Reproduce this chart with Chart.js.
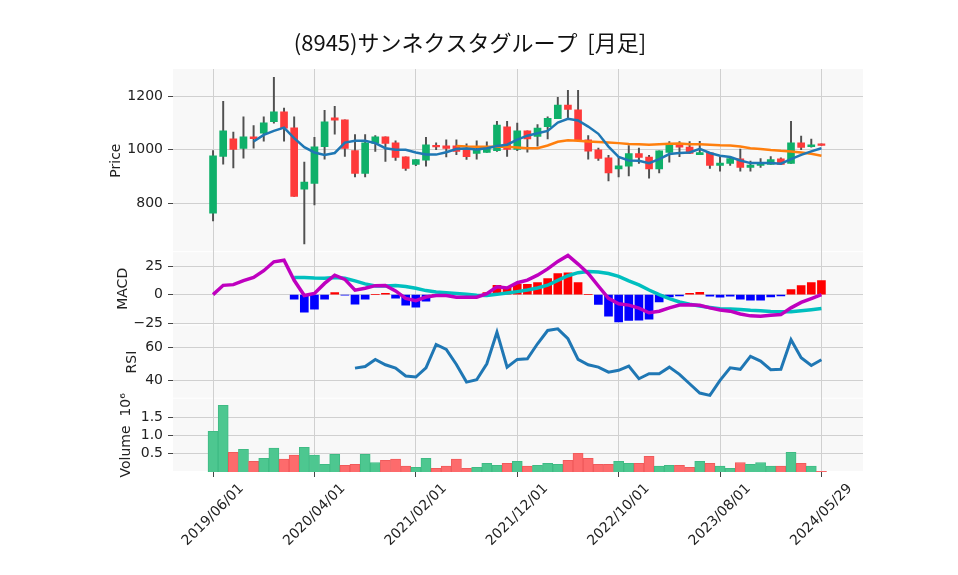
<!DOCTYPE html>
<html>
<head>
<meta charset="utf-8">
<script src="https://cdn.jsdelivr.net/npm/chart.js@4.4.0/dist/chart.umd.min.js"></script>
<style>
  html, body { margin: 0; padding: 0; background: #fff; }
</style>
</head>
<body>
<canvas id="myChart" width="958" height="575"></canvas>
<script>
const ctx = document.getElementById("myChart").getContext("2d");

const chartTitle = '(8945)サンネクスタグループ  [月足]';
// x is the bar index (monthly bars), labels every 10 bars
const tickIdx = [0, 10, 20, 30, 40, 50, 60];
const tickLabels = ['2019/06/01', '2020/04/01', '2021/02/01', '2021/12/01', '2022/10/01', '2023/08/01', '2024/05/29'];

const opens = [762, 975, 1041, 1005, 1049, 1062, 1105, 1142, 1082, 852,
  874, 1012, 1120, 1112, 997, 911, 1024, 1049, 1026, 974,
  945, 961, 1015, 1015, 1015, 1001, 986, 990, 997, 1086,
  1001, 1071, 1050, 1087, 1117, 1168, 1150, 1037, 1000, 970,
  928, 939, 986, 973, 928, 990, 1024, 1010, 982, 989,
  941, 949, 966, 934, 941, 945, 966, 949, 1026, 1012, 1022];
const highs = [997, 1182, 1066, 1124, 1091, 1124, 1272, 1156, 1124, 954,
  1047, 1148, 1163, 1112, 1057, 1057, 1053, 1049, 1034, 974,
  963, 1047, 1026, 1037, 1037, 1022, 1034, 1030, 1107, 1107,
  1100, 1071, 1095, 1124, 1197, 1223, 1223, 1053, 1006, 979,
  971, 1016, 1006, 979, 996, 1031, 1031, 1031, 1032, 989,
  974, 975, 1003, 958, 967, 975, 970, 1107, 1051, 1040, 1022];
const lows = [733, 946, 932, 969, 1006, 1032, 1100, 1032, 825, 647,
  793, 965, 1059, 975, 898, 898, 994, 956, 960, 923,
  940, 939, 1000, 973, 982, 964, 965, 990, 994, 975,
  997, 991, 1014, 1041, 1117, 1117, 1037, 965, 960, 883,
  898, 902, 949, 894, 913, 954, 974, 985, 982, 930,
  920, 941, 920, 920, 934, 945, 945, 949, 1000, 1010, 1016];
const closes = [977, 1071, 1001, 1049, 1042, 1101, 1142, 1081, 825, 879,
  1011, 1105, 1111, 1005, 911, 1026, 1049, 1024, 971, 930,
  963, 1019, 1011, 1005, 994, 974, 1001, 1007, 1093, 1001,
  1071, 1041, 1081, 1118, 1168, 1151, 1037, 995, 968, 913,
  940, 986, 971, 928, 996, 1024, 1010, 986, 990, 941,
  950, 967, 934, 943, 949, 963, 945, 1026, 1009, 1019, 1016];

const ma5 = [null, null, null, null, 1031, 1056, 1071, 1083, 1044, 1010,
  990, 981, 988, 1027, 1034, 1034, 1025, 1006, 1000, 1000,
  990, 982, 982, 991, 1003, 1005, 1001, 1006, 1014, 1019,
  1038, 1053, 1062, 1071, 1102, 1116, 1110, 1087, 1060, 1012,
  973, 960, 959, 950, 965, 984, 988, 990, 1004, 988,
  978, 973, 960, 950, 950, 950, 948, 965, 981, 994, 1006];
const ma25 = [null, null, null, null, null, null, null, null, null, null,
  null, null, null, null, null, null, null, null, null, null,
  null, null, null, null, 1014, 1012, 1011, 1011, 1011, 1011,
  1009, 1006, 1006, 1016, 1030, 1036, 1034, 1031, 1029, 1027,
  1025, 1022, 1021, 1019, 1021, 1023, 1024, 1021, 1021, 1019,
  1017, 1016, 1012, 1006, 1003, 999, 996, 994, 990, 985, 978];

const macd = [0, 8.1, 8.7, 12.2, 15, 20.9, 28.7, 30.1, 12.5, -0.8,
  1.0, 9.8, 17, 13.3, 3.9, 5.6, 7.8, 7.9, 3.2, -3.3,
  -5.3, -2.1, -0.8, -0.9, -2.3, -2.3, -2.3, 0.8, 6.9, 5.8,
  10.4, 12.6, 17, 22.5, 29, 34.2, 26.7, 18.5, 7.5, -3.2,
  -8, -9.2, -11.8, -15.9, -14.6, -11.6, -9.2, -8.9, -9.4, -11.6,
  -13.4, -14.5, -17, -18.6, -18.9, -18.1, -17.5, -11.6, -6.8, -3.5, 0];
const signal = [null, null, null, null, null, null, null, null, 15, 15,
  14.5, 14.3, 15, 14.3, 12, 9.4, 7.5, 7.5, 8, 7,
  5.5, 3.5, 2.3, 1.6, 1, 0.3, -0.5, -0.7, 0.2, 1.4,
  2.6, 4, 5.8, 8.2, 12.5, 16.5, 19.2, 20.2, 19.7, 18.5,
  16, 12, 8.5, 4, 0, -3.5, -6.5, -8.5, -10, -11.2,
  -12.3, -12.7, -13, -13.7, -14.2, -14.8, -15.1, -15.1, -14.2, -13.2, -12.2];
const hist = [null, null, null, null, null, null, null, null, -4.1, -15.4,
  -12.8, -4.1, 1.7, -0.6, -8.4, -4.1, 0, 1.2, -3.2, -9.3,
  -11, -5.8, 0, 0, 0, 0, 0, 1.7, 8.1, 6.1,
  9.3, 9, 10.4, 13.9, 18.3, 19.1, 10.4, 0, -8.7, -18.8,
  -23.8, -22.6, -22.3, -21.4, -6.5, -2, -1.2, 1.2, 2, -1.4,
  -2.3, -1.4, -4.1, -4.9, -4.9, -2, -1.2, 4.3, 7.8, 10.4, 12.2];

const rsi = [null, null, null, null, null, null, null, null, null, null,
  null, null, null, null, 47.5, 48.5, 52.7, 49.5, 47.5, 42.8,
  42.2, 47.7, 61.6, 58.6, 49.7, 39.2, 40.6, 50.1, 68.9, 48.1,
  52.7, 53.1, 62, 69.9, 70.9, 65, 52.7, 49.5, 48.1, 45.1,
  46.2, 48.7, 41.2, 44.2, 44.2, 48.1, 43.8, 38.2, 32.7, 31.3,
  40.2, 47.7, 46.8, 54.5, 51.7, 46.6, 46.8, 64.4, 53.7, 49.1, 52.5];

// volume in millions of shares
const volume = [1.11, 1.82, 0.54, 0.62, 0.29, 0.37, 0.65, 0.35, 0.46, 0.67,
  0.46, 0.21, 0.48, 0.18, 0.21, 0.48, 0.26, 0.32, 0.35, 0.16,
  0.13, 0.37, 0.10, 0.16, 0.35, 0.10, 0.13, 0.24, 0.18, 0.24,
  0.29, 0.16, 0.18, 0.24, 0.21, 0.32, 0.51, 0.37, 0.21, 0.21,
  0.29, 0.24, 0.24, 0.43, 0.16, 0.18, 0.18, 0.13, 0.29, 0.24,
  0.16, 0.10, 0.26, 0.21, 0.26, 0.16, 0.16, 0.54, 0.24, 0.16, 0.02];

const UP = '#0fb06a', DOWN = '#fe3a3a';
const VOL_UP = '#4dc790', VOL_DOWN = '#fd6b6c';

const pts = arr => arr.map((v, i) => ({ x: i, y: v })).filter(p => p.y !== null);
const bodyUp = closes.map((c, i) => c >= opens[i]);
const volUp = closes.map((c, i) => i === 0 || c >= closes[i - 1]);

Chart.defaults.font.family = "'DejaVu Sans'";
Chart.defaults.font.size = 14;
Chart.defaults.color = '#222';

const decor = {
  id: 'decor',
  beforeDraw(chart) {
    const { ctx, chartArea: a, scales } = chart;
    ctx.save();
    ctx.fillStyle = '#fff';
    ctx.fillRect(0, 0, chart.width, chart.height);
    ctx.fillStyle = '#f8f8f8';
    ['price', 'macd', 'rsi', 'vol'].forEach(id => {
      const s = scales[id];
      ctx.fillRect(a.left, s.top, a.right - a.left, s.bottom - s.top - 1);
    });
    ctx.restore();
  },
  afterDraw(chart) {
    const { ctx, chartArea: a, scales } = chart;
    ctx.save();
    ctx.fillStyle = '#111';
    ctx.textAlign = 'center';
    ctx.textBaseline = 'middle';
    ctx.font = "22px 'Noto Sans CJK JP'";
    ctx.fillText(chartTitle, 470, 43);
    ctx.fillStyle = '#222';
    ctx.font = "14px 'DejaVu Sans'";
    tickIdx.forEach((v, k) => {
      const px = scales.x.getPixelForValue(v);
      ctx.save();
      ctx.translate(px, a.bottom + 43);
      ctx.rotate(-Math.PI / 4);
      ctx.fillText(tickLabels[k], 0, 0);
      ctx.restore();
    });
    ctx.restore();
  }
};

function yScale(weight, stackWeight, min, max, ticks, title, titlePad, fmt) {
  return {
    type: 'linear',
    position: 'left',
    stack: 'panels',
    stackWeight: stackWeight,
    weight: weight,
    min: min,
    max: max,
    border: { display: false },
    grid: { color: '#d0d0d0', tickLength: 5, tickColor: '#444' },
    ticks: { padding: 5, callback: fmt },
    title: { display: true, text: title, padding: { top: titlePad, bottom: 0 }, font: { size: 14 } },
    afterBuildTicks: ax => { ax.ticks = ticks.map(v => ({ value: v })); },
    afterFit: ax => { ax.width = 73; }
  };
}

const minus = v => v < 0 ? '\u2212' + Math.abs(v) : String(v);

new Chart(ctx, {
  data: {
    datasets: [
      { type: 'line', data: pts(ma5), yAxisID: 'price', borderColor: '#1f77b4', borderWidth: 2.5, pointRadius: 0, order: 0 },
      { type: 'line', data: pts(ma25), yAxisID: 'price', borderColor: '#ff7f0e', borderWidth: 2.5, pointRadius: 0, order: 0 },
      { type: 'bar', data: opens.map((o, i) => ({ x: i, y: [o, closes[i]] })), yAxisID: 'price',
        backgroundColor: bodyUp.map(u => u ? UP : DOWN), barThickness: 7, minBarLength: 1.5, grouped: false, order: 1 },
      { type: 'bar', data: lows.map((l, i) => ({ x: i, y: [l, highs[i]] })), yAxisID: 'price',
        backgroundColor: '#505050', barThickness: 1.3, grouped: false, order: 2 },

      { type: 'line', data: pts(macd), yAxisID: 'macd', borderColor: '#bf00bf', borderWidth: 3.5, pointRadius: 0, order: 0 },
      { type: 'line', data: pts(signal), yAxisID: 'macd', borderColor: '#00bfbf', borderWidth: 3.5, pointRadius: 0, order: 0 },
      { type: 'bar', data: pts(hist), yAxisID: 'macd',
        backgroundColor: hist.filter(v => v !== null).map(v => v >= 0 ? '#ff0000' : '#0000ff'), barThickness: 8, grouped: false, order: 1 },

      { type: 'line', data: pts(rsi), yAxisID: 'rsi', borderColor: '#1f77b4', borderWidth: 3, pointRadius: 0, order: 0 },

      { type: 'bar', data: pts(volume), yAxisID: 'vol',
        backgroundColor: volUp.map(u => u ? VOL_UP : VOL_DOWN),
        borderColor: volUp.map(u => u ? '#3fbb84' : '#f05a5b'), borderWidth: 1,
        barThickness: 10.1, grouped: false, order: 1 }
    ]
  },
  options: {
    responsive: false,
    animation: false,
    events: [],
    devicePixelRatio: 1,
    layout: { padding: { top: 69, left: 100, right: 95, bottom: 0 } },
    plugins: { legend: { display: false }, tooltip: { enabled: false } },
    scales: {
      x: {
        type: 'linear', min: -3.95, max: 64.1, offset: false,
        border: { display: false },
        grid: { offset: false, color: '#d0d0d0', tickLength: 5, tickColor: '#444' },
        ticks: { display: false },
        afterBuildTicks: ax => { ax.ticks = tickIdx.map(v => ({ value: v })); },
        afterFit: ax => { ax.height = 103; }
      },
      price: yScale(4, 5, 616, 1303, [800, 1000, 1200], 'Price', 7.6, minus),
      macd: yScale(3, 2, -27, 37.1, [-25, 0, 25], 'MACD', 14.6, minus),
      rsi: yScale(2, 2, 29.3, 72.9, [40, 60], 'RSI', 23.6, minus),
      vol: yScale(1, 2, 0, 2.0, [0.5, 1.0, 1.5], 'Volume  10\u2076', 17.6, v => v.toFixed(1))
    }
  },
  plugins: [decor]
});
</script>
</body>
</html>
